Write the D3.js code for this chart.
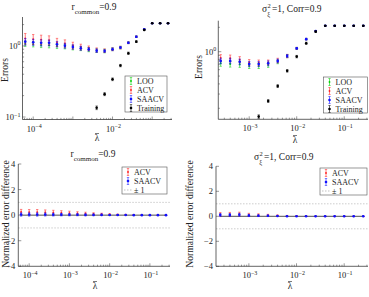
<html>
<head>
<style>
  body { margin: 0; background: #fff; }
  svg text { font-family: "Liberation Serif", "DejaVu Serif", serif; fill: #222; }
</style>
<script src="https://d3js.org/d3.v7.min.js"></script>
</head>
<body>
<svg width="369" height="297"></svg>
<script>
// lambda grids, as log10 exponents
var lamLeft = [-4.2, -4.0, -3.8, -3.6, -3.4, -3.2, -3.0, -2.8, -2.6, -2.4, -2.2, -2.0, -1.8, -1.6, -1.4, -1.2, -1.0, -0.8, -0.6];
var lamRight = [-3.6, -3.4, -3.2, -3.0, -2.8, -2.6, -2.4, -2.2, -2.0, -1.8, -1.6, -1.4, -1.2, -1.0, -0.8, -0.6];

// top left: r_common = 0.9
var looL = [1.08, 1.06, 1.03, 1.02, 1.00, 0.98, 0.95, 0.92, 0.89, 0.86, 0.85, 0.90, 0.95, 1.11, 1.35, 1.72, 2.09, 2.09, 2.09];
var looLerr = [0.09, 0.09, 0.08, 0.08, 0.08, 0.07, 0.07, 0.06, 0.06, 0.05, 0.05, 0.04, 0.04, 0.03, 0.03, 0.02, 0.01, 0.01, 0.01];
var acvL = [1.28, 1.25, 1.23, 1.21, 1.13, 1.09, 1.02, 0.97, 0.93, 0.88, 0.86, 0.90, 0.95, 1.11, 1.35, 1.72, 2.09, 2.09, 2.09];
var acvLerr = [0.22, 0.20, 0.19, 0.18, 0.15, 0.13, 0.11, 0.09, 0.07, 0.06, 0.05, 0.04, 0.04, 0.03, 0.03, 0.02, 0.01, 0.01, 0.01];
var saaL = [1.15, 1.13, 1.11, 1.11, 1.06, 1.01, 0.97, 0.93, 0.90, 0.86, 0.85, 0.90, 0.95, 1.11, 1.35, 1.72, 2.09, 2.09, 2.09];
var saaLerr = [0.12, 0.11, 0.11, 0.10, 0.09, 0.08, 0.07, 0.06, 0.05, 0.05, 0.04, 0.04, 0.03, 0.03, 0.03, 0.02, 0.01, 0.01, 0.01];
var trnL = [null, null, null, null, null, null, null, null, null, 0.135, 0.21, 0.34, 0.53, 0.79, 1.15, 1.68, 2.09, 2.09, 2.09];
var trnLerr = [0, 0, 0, 0, 0, 0, 0, 0, 0, 0.008, 0.01, 0.015, 0.02, 0.03, 0.03, 0.03, 0.02, 0.02, 0.02];

// top right: sigma^2 = 1, Corr = 0.9
var looR = [0.72, 0.705, 0.70, 0.67, 0.67, 0.69, 0.75, 0.885, 1.10, 1.43, 1.80, 2.09, 2.09, 2.09, 2.09, 2.09];
var looRerr = [0.06, 0.06, 0.06, 0.05, 0.05, 0.05, 0.04, 0.04, 0.03, 0.03, 0.02, 0.01, 0.01, 0.01, 0.01, 0.01];
var acvR = [0.84, 0.83, 0.80, 0.74, 0.73, 0.74, 0.78, 0.885, 1.10, 1.43, 1.80, 2.09, 2.09, 2.09, 2.09, 2.09];
var acvRerr = [0.08, 0.08, 0.07, 0.06, 0.06, 0.05, 0.05, 0.04, 0.03, 0.03, 0.02, 0.01, 0.01, 0.01, 0.01, 0.01];
var saaR = [0.77, 0.77, 0.75, 0.705, 0.705, 0.72, 0.77, 0.885, 1.10, 1.43, 1.80, 2.09, 2.09, 2.09, 2.09, 2.09];
var saaRerr = [0.06, 0.06, 0.06, 0.05, 0.05, 0.05, 0.04, 0.04, 0.03, 0.03, 0.02, 0.01, 0.01, 0.01, 0.01, 0.01];
var trnR = [null, null, null, null, 0.158, 0.246, 0.376, 0.58, 0.87, 1.27, 1.77, 2.09, 2.09, 2.09, 2.09, 2.09];
var trnRerr = [0, 0, 0, 0, 0.008, 0.01, 0.015, 0.02, 0.03, 0.04, 0.04, 0.02, 0.02, 0.02, 0.02, 0.02];

// bottom: normalized error difference
var acvDL = [0.25, 0.24, 0.24, 0.22, 0.20, 0.18, 0.16, 0.14, 0.12, 0.10, 0.08, 0.06, 0.04, 0.03, 0.02, 0.01, 0.0, 0.0, 0.0];
var acvDLerr = [0.20, 0.20, 0.20, 0.19, 0.18, 0.17, 0.15, 0.13, 0.11, 0.09, 0.07, 0.05, 0.04, 0.03, 0.02, 0.02, 0.01, 0.01, 0.01];
var saaDL = [0.05, 0.05, 0.05, 0.05, 0.04, 0.04, 0.03, 0.03, 0.02, 0.02, 0.02, 0.01, 0.01, 0.01, 0.0, 0.0, 0.0, 0.0, 0.0];
var saaDLerr = [0.13, 0.13, 0.13, 0.12, 0.11, 0.10, 0.09, 0.08, 0.07, 0.06, 0.05, 0.04, 0.03, 0.02, 0.02, 0.01, 0.01, 0.01, 0.01];
var acvDR = [0.15, 0.16, 0.18, 0.12, 0.10, 0.08, 0.05, 0.03, 0.02, 0.01, 0.0, 0.0, 0.0, 0.0, 0.0, 0.0];
var acvDRerr = [0.15, 0.15, 0.15, 0.12, 0.10, 0.08, 0.06, 0.04, 0.03, 0.02, 0.01, 0.01, 0.01, 0.01, 0.01, 0.01];
var saaDR = [0.10, 0.10, 0.12, 0.07, 0.05, 0.04, 0.02, 0.01, 0.0, 0.0, 0.0, 0.0, 0.0, 0.0, 0.0, 0.0];
var saaDRerr = [0.12, 0.12, 0.12, 0.09, 0.07, 0.06, 0.04, 0.03, 0.02, 0.01, 0.01, 0.01, 0.01, 0.01, 0.01, 0.01];

// tick labels (decade exponents)
var xTicksTL = [-4, -2];
var xTicksTR = [-3, -2, -1];
var xTicksBL = [-4, -3, -2, -1];
var xTicksBR = [-3, -2, -1];
var yTicksTL = [-1, 0];
var yTicksTR = [0];
var diffTicks = [-4, -2, 0, 2, 4];

var cLOO = "#00d000", cACV = "#ff2020", cSAA = "#1010ff", cTRN = "#000";

var svg = d3.select("svg");

function pow10(e) { return Math.pow(10, e); }

// superscripted "10^e" label
function powLabel(g, x, y, e, anchor) {
  var t = g.append("text").attr("x", x).attr("y", y).attr("font-size", 8.5).attr("text-anchor", anchor);
  t.append("tspan").text("10");
  t.append("tspan").attr("dy", -3.5).attr("font-size", 6).text(e == 0 ? "0" : "\u2212" + Math.abs(e));
}

function drawXAxis(g, x, y0, xr, labels) {
  var lo = Math.floor(Math.log10(x.domain()[0])), hi = Math.ceil(Math.log10(x.domain()[1]));
  g.append("line").attr("x1", xr[0]).attr("x2", xr[1]).attr("y1", y0).attr("y2", y0)
    .attr("stroke", "#222").attr("stroke-width", 0.7);
  for (var d = lo; d <= hi; d++) {
    for (var m = 1; m < 10; m++) {
      var v = m * pow10(d);
      if (v < x.domain()[0] || v > x.domain()[1]) continue;
      var len = m == 1 ? 3 : 1.6;
      g.append("line").attr("x1", x(v)).attr("x2", x(v)).attr("y1", y0).attr("y2", y0 - len)
        .attr("stroke", "#333").attr("stroke-width", 0.5);
      if (m == 1 && labels.indexOf(d) >= 0) powLabel(g, x(v) + 1, y0 + 12, d, "middle");
    }
  }
}

function drawLogYAxis(g, y, x0, yr, labels) {
  g.append("line").attr("x1", x0).attr("x2", x0).attr("y1", yr[0]).attr("y2", yr[1])
    .attr("stroke", "#222").attr("stroke-width", 0.7);
  var lo = Math.floor(Math.log10(y.domain()[0])), hi = Math.ceil(Math.log10(y.domain()[1]));
  for (var d = lo; d <= hi; d++) {
    for (var m = 1; m < 10; m++) {
      var v = m * pow10(d);
      if (v < y.domain()[0] || v > y.domain()[1]) continue;
      var len = m == 1 ? 3 : 1.6;
      g.append("line").attr("x1", x0).attr("x2", x0 + len).attr("y1", y(v)).attr("y2", y(v))
        .attr("stroke", "#333").attr("stroke-width", 0.5);
      if (m == 1 && labels.indexOf(d) >= 0) powLabel(g, x0 - 2, y(v) + 3, d, "end");
    }
  }
}

function drawLinYAxis(g, y, x0, yr) {
  g.append("line").attr("x1", x0).attr("x2", x0).attr("y1", yr[0]).attr("y2", yr[1])
    .attr("stroke", "#222").attr("stroke-width", 0.7);
  diffTicks.forEach(function(t) {
    g.append("line").attr("x1", x0).attr("x2", x0 + 3).attr("y1", y(t)).attr("y2", y(t))
      .attr("stroke", "#333").attr("stroke-width", 0.5);
    g.append("text").attr("x", x0 - 3).attr("y", y(t) + 3).attr("font-size", 8.5)
      .attr("text-anchor", "end").text(t < 0 ? "\u2212" + Math.abs(t) : t);
  });
}

function errSeries(g, x, y, lam, vals, errs, color, r) {
  lam.forEach(function(e, i) {
    if (vals[i] == null) return;
    var cx = x(pow10(e)), lo = y(vals[i] - errs[i]), hi = y(vals[i] + errs[i]);
    g.append("line").attr("x1", cx).attr("x2", cx).attr("y1", lo).attr("y2", hi)
      .attr("stroke", color).attr("stroke-width", 0.6);
    [lo, hi].forEach(function(yy) {
      g.append("line").attr("x1", cx - 1.2).attr("x2", cx + 1.2).attr("y1", yy).attr("y2", yy)
        .attr("stroke", color).attr("stroke-width", 0.5);
    });
    g.append("circle").attr("cx", cx).attr("cy", y(vals[i])).attr("r", r).attr("fill", color);
  });
}

function legend(g, x0, y0, w, h, items) {
  g.append("rect").attr("x", x0).attr("y", y0).attr("width", w).attr("height", h)
    .attr("fill", "#fff").attr("stroke", "#555").attr("stroke-width", 0.6);
  items.forEach(function(it, i) {
    var yy = y0 + 5 + i * 9;
    var gx = x0 + 6;
    if (it.dash) {
      g.append("line").attr("x1", gx - 4).attr("x2", gx + 5).attr("y1", yy).attr("y2", yy)
        .attr("stroke", "#999").attr("stroke-width", 0.6).attr("stroke-dasharray", "1.5,1.5");
    } else {
      g.append("line").attr("x1", gx).attr("x2", gx).attr("y1", yy - 3.5).attr("y2", yy + 3.5)
        .attr("stroke", it.color).attr("stroke-width", 0.6);
      g.append("line").attr("x1", gx - 1.2).attr("x2", gx + 1.2).attr("y1", yy - 3.5).attr("y2", yy - 3.5)
        .attr("stroke", it.color).attr("stroke-width", 0.5);
      g.append("line").attr("x1", gx - 1.2).attr("x2", gx + 1.2).attr("y1", yy + 3.5).attr("y2", yy + 3.5)
        .attr("stroke", it.color).attr("stroke-width", 0.5);
      g.append("circle").attr("cx", gx).attr("cy", yy).attr("r", it.r).attr("fill", it.color);
    }
    g.append("text").attr("x", x0 + 12).attr("y", yy + 3).attr("font-size", 8).text(it.label);
  });
}

// lambda with a bar over it
function lamLabel(g, cx, cy) {
  g.append("text").attr("x", cx).attr("y", cy).attr("font-size", 9.5).attr("text-anchor", "middle").text("\u03BB");
  g.append("line").attr("x1", cx - 2).attr("x2", cx + 2).attr("y1", cy - 7.5).attr("y2", cy - 7.5)
    .attr("stroke", "#222").attr("stroke-width", 0.6);
}

function titleR(g, cx, cy) {
  var t = g.append("text").attr("x", cx).attr("y", cy).attr("font-size", 9.5).attr("text-anchor", "middle");
  t.append("tspan").text("r");
  t.append("tspan").attr("dy", 3.5).attr("font-size", 7).text("common");
  t.append("tspan").attr("dy", -3.5).text("=0.9");
}

function titleS(g, cx, cy) {
  var x0 = cx - 31;
  g.append("text").attr("x", x0).attr("y", cy).attr("font-size", 9.5).text("\u03C3");
  g.append("text").attr("x", x0 + 5.5).attr("y", cy - 4).attr("font-size", 6.5).text("2");
  g.append("text").attr("x", x0 + 5.2).attr("y", cy + 3.5).attr("font-size", 6.5).text("\u03BE");
  g.append("text").attr("x", x0 + 10).attr("y", cy).attr("font-size", 9.5).text("=1, Corr=0.9");
}

function yLabel(g, x, y, txt, fs) {
  g.append("text").attr("transform", "translate(" + x + "," + y + ") rotate(-90)")
    .attr("font-size", fs).attr("text-anchor", "middle").text(txt);
}

// ---- top left ----
(function() {
  var g = svg.append("g");
  var xr = [22.5, 172], yr = [17, 119.5];
  var x = d3.scaleLog().domain([pow10(-4.27), pow10(-0.5)]).range(xr);
  var y = d3.scaleLog().domain([pow10(-1.035), pow10(0.408)]).range([yr[1], yr[0]]);
  drawLogYAxis(g, y, xr[0], yr, yTicksTL);
  drawXAxis(g, x, yr[1], xr, xTicksTL);
  errSeries(g, x, y, lamLeft, looL, looLerr, cLOO, 0.9);
  errSeries(g, x, y, lamLeft, acvL, acvLerr, cACV, 0.9);
  errSeries(g, x, y, lamLeft, saaL, saaLerr, cSAA, 1.3);
  errSeries(g, x, y, lamLeft, trnL, trnLerr, cTRN, 1.3);
  legend(g, 125, 76, 42, 36, [
    {label: "LOO", color: cLOO, r: 0.9}, {label: "ACV", color: cACV, r: 0.9},
    {label: "SAACV", color: cSAA, r: 1.3}, {label: "Training", color: cTRN, r: 1.3}]);
  titleR(g, 94, 10);
  yLabel(g, 8, 70, "Errors", 9.5);
  lamLabel(g, 97, 141);
})();

// ---- top right ----
(function() {
  var g = svg.append("g");
  var xr = [218.3, 368], yr = [20.7, 119.3];
  var x = d3.scaleLog().domain([pow10(-3.65), pow10(-0.5)]).range(xr);
  var y = d3.scaleLog().domain([pow10(-0.835), pow10(0.383)]).range([yr[1], yr[0]]);
  drawLogYAxis(g, y, xr[0], yr, yTicksTR);
  drawXAxis(g, x, yr[1], xr, xTicksTR);
  errSeries(g, x, y, lamRight, looR, looRerr, cLOO, 0.9);
  errSeries(g, x, y, lamRight, acvR, acvRerr, cACV, 0.9);
  errSeries(g, x, y, lamRight, saaR, saaRerr, cSAA, 1.3);
  errSeries(g, x, y, lamRight, trnR, trnRerr, cTRN, 1.3);
  legend(g, 323.5, 77, 44, 36, [
    {label: "LOO", color: cLOO, r: 0.9}, {label: "ACV", color: cACV, r: 0.9},
    {label: "SAACV", color: cSAA, r: 1.3}, {label: "Training", color: cTRN, r: 1.3}]);
  titleS(g, 293, 12);
  yLabel(g, 202, 67, "Errors", 9.5);
  lamLabel(g, 295, 143);
})();

// ---- bottom panels ----
function diffPanel(xr, yr, dom, lam, acv, acvErr, saa, saaErr, labels, leg, title, tx, ty, ylx, lx, ly) {
  var g = svg.append("g");
  var x = d3.scaleLog().domain([pow10(dom[0]), pow10(dom[1])]).range(xr);
  var y = d3.scaleLinear().domain([-4, 4]).range([yr[1], yr[0]]);
  [-1, 1].forEach(function(v) {
    g.append("line").attr("x1", xr[0]).attr("x2", xr[1]).attr("y1", y(v)).attr("y2", y(v))
      .attr("stroke", "#aaa").attr("stroke-width", 0.6).attr("stroke-dasharray", "1.5,1.5");
  });
  drawLinYAxis(g, y, xr[0], yr);
  drawXAxis(g, x, yr[1], xr, labels);
  g.append("line").attr("x1", x(pow10(lam[0]))).attr("x2", x(pow10(lam[lam.length - 1])))
    .attr("y1", y(0)).attr("y2", y(0)).attr("stroke", "#222").attr("stroke-width", 0.8);
  errSeries(g, x, y, lam, acv, acvErr, cACV, 0.9);
  errSeries(g, x, y, lam, saa, saaErr, cSAA, 1.3);
  legend(g, leg[0], leg[1], leg[2], 27, [
    {label: "ACV", color: cACV, r: 0.9}, {label: "SAACV", color: cSAA, r: 1.3},
    {label: "\u00B1 1", dash: true}]);
  title(g, tx, ty);
  yLabel(g, ylx, 214, "Normalized error difference", 9.6);
  lamLabel(g, lx, ly);
}

diffPanel([18.3, 170], [164, 266.3], [-4.27, -0.5], lamLeft, acvDL, acvDLerr, saaDL, saaDLerr, xTicksBL,
  [122, 167, 45], titleR, 93, 157, 8.5, 95, 289);
diffPanel([216, 368], [166.3, 266.3], [-3.69, -0.5], lamRight, acvDR, acvDRerr, saaDR, saaDRerr, xTicksBR,
  [320, 168, 47], titleS, 285, 160, 193, 290, 289);
</script>
</body>
</html>
